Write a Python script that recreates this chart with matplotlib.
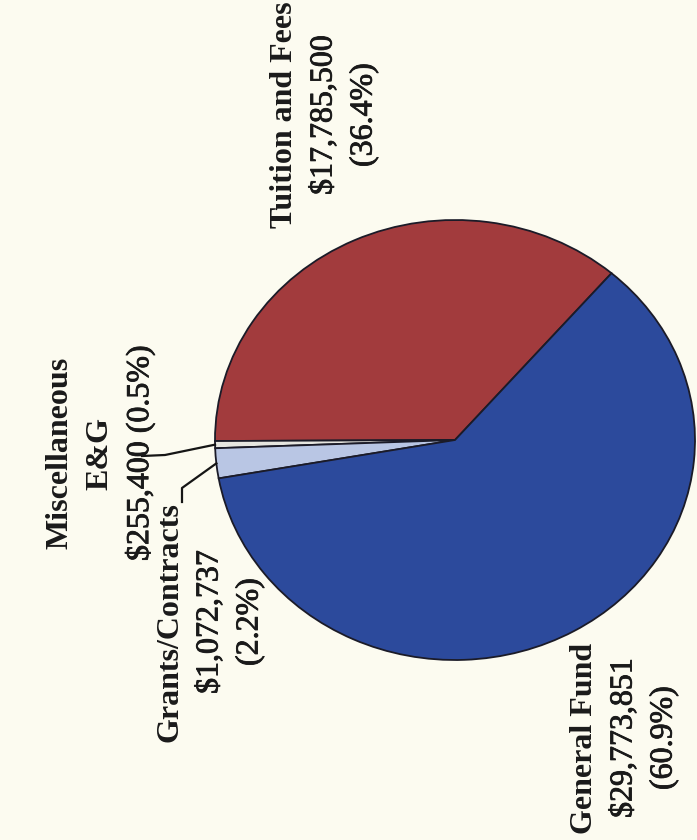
import numpy as np
import matplotlib
matplotlib.use('Agg')
import matplotlib.pyplot as plt
import matplotlib.patheffects as pe

# 经费来源
categories = ['Tuition and Fees', 'Miscellaneous\nE&G', 'Grants/Contracts', 'General Fund']
amounts = [17785500, 255400, 1072737, 29773851]
amount_labels = ['$17,785,500', '$255,400', '$1,072,737', '$29,773,851']
pct_labels = ['(36.4%)', '(0.5%)', '(2.2%)', '(60.9%)']
colors = ['#A23B3D', '#E6E6E0', '#B9C6E4', '#2C4A9C']

W, H = 697, 840
bg = '#FCFBF0'

plt.rcParams['font.family'] = ['Liberation Serif', 'DejaVu Serif']

fig = plt.figure(figsize=(W / 100, H / 100), dpi=100, facecolor=bg)
ax = fig.add_axes([0, 0, 1, 1])
ax.set_facecolor(bg)

# 椭圆半径（像素）与圆心
rx, ry = 240.0, 220.0
cx, cy = 455.0, 440.0

wedges, _ = ax.pie(amounts, colors=colors, startangle=49.3, counterclock=True,
                   wedgeprops=dict(edgecolor='#1b1b28', linewidth=1.3))
ax.set_aspect('auto')
ax.set_xlim(-cx / rx, (W - cx) / rx)
ax.set_ylim(-(H - cy) / ry, cy / ry)
ax.axis('off')


def px(x, y):
    return (x - cx) / rx, (cy - y) / ry


def edge_point(w):
    mid = np.deg2rad((w.theta1 + w.theta2) / 2)
    return np.cos(mid), np.sin(mid)


# 引线
ex, ey = edge_point(wedges[1])
p0 = px(142, 456)
p1 = px(165, 455)
ax.plot([p0[0], p1[0], ex], [p0[1], p1[1], ey], color='#151515', lw=1.6, clip_on=False)

ex, ey = edge_point(wedges[2])
p0 = px(182, 502)
p1 = px(182, 488)
ax.plot([p0[0], p1[0], ex], [p0[1], p1[1], ey], color='#151515', lw=1.6, clip_on=False)

fs = 23
ink = [pe.withStroke(linewidth=0.6, foreground='#1a1a1a')]


def label(x, y, title, amount, pct, one_line=False):
    # 标题加粗，数值常规
    n_title = title.count('\n') + 1
    rest = [amount + ' ' + pct] if one_line else [amount, pct]
    n_all = n_title + len(rest)
    step = 40
    xs = x - (n_all - 1) * step / 2
    for i, t in enumerate(title.split('\n')):
        fig.text((xs + i * step) / W, 1 - y / H, t, rotation=90, ha='center', va='center',
                 fontsize=fs, fontweight='bold', color='#1a1a1a')
    for j, t in enumerate(rest):
        fig.text((xs + (n_title + j) * step) / W, 1 - y / H, t, rotation=90, ha='center',
                 va='center', fontsize=fs, color='#1a1a1a', path_effects=ink)


label(324, 115, categories[0], amount_labels[0], pct_labels[0])
label(100, 453, categories[1], amount_labels[1], pct_labels[1], one_line=True)
label(210, 622, categories[2], amount_labels[2], pct_labels[2])
label(624, 738, categories[3], amount_labels[3], pct_labels[3])

fig.savefig('out.png', dpi=100, facecolor=bg)
